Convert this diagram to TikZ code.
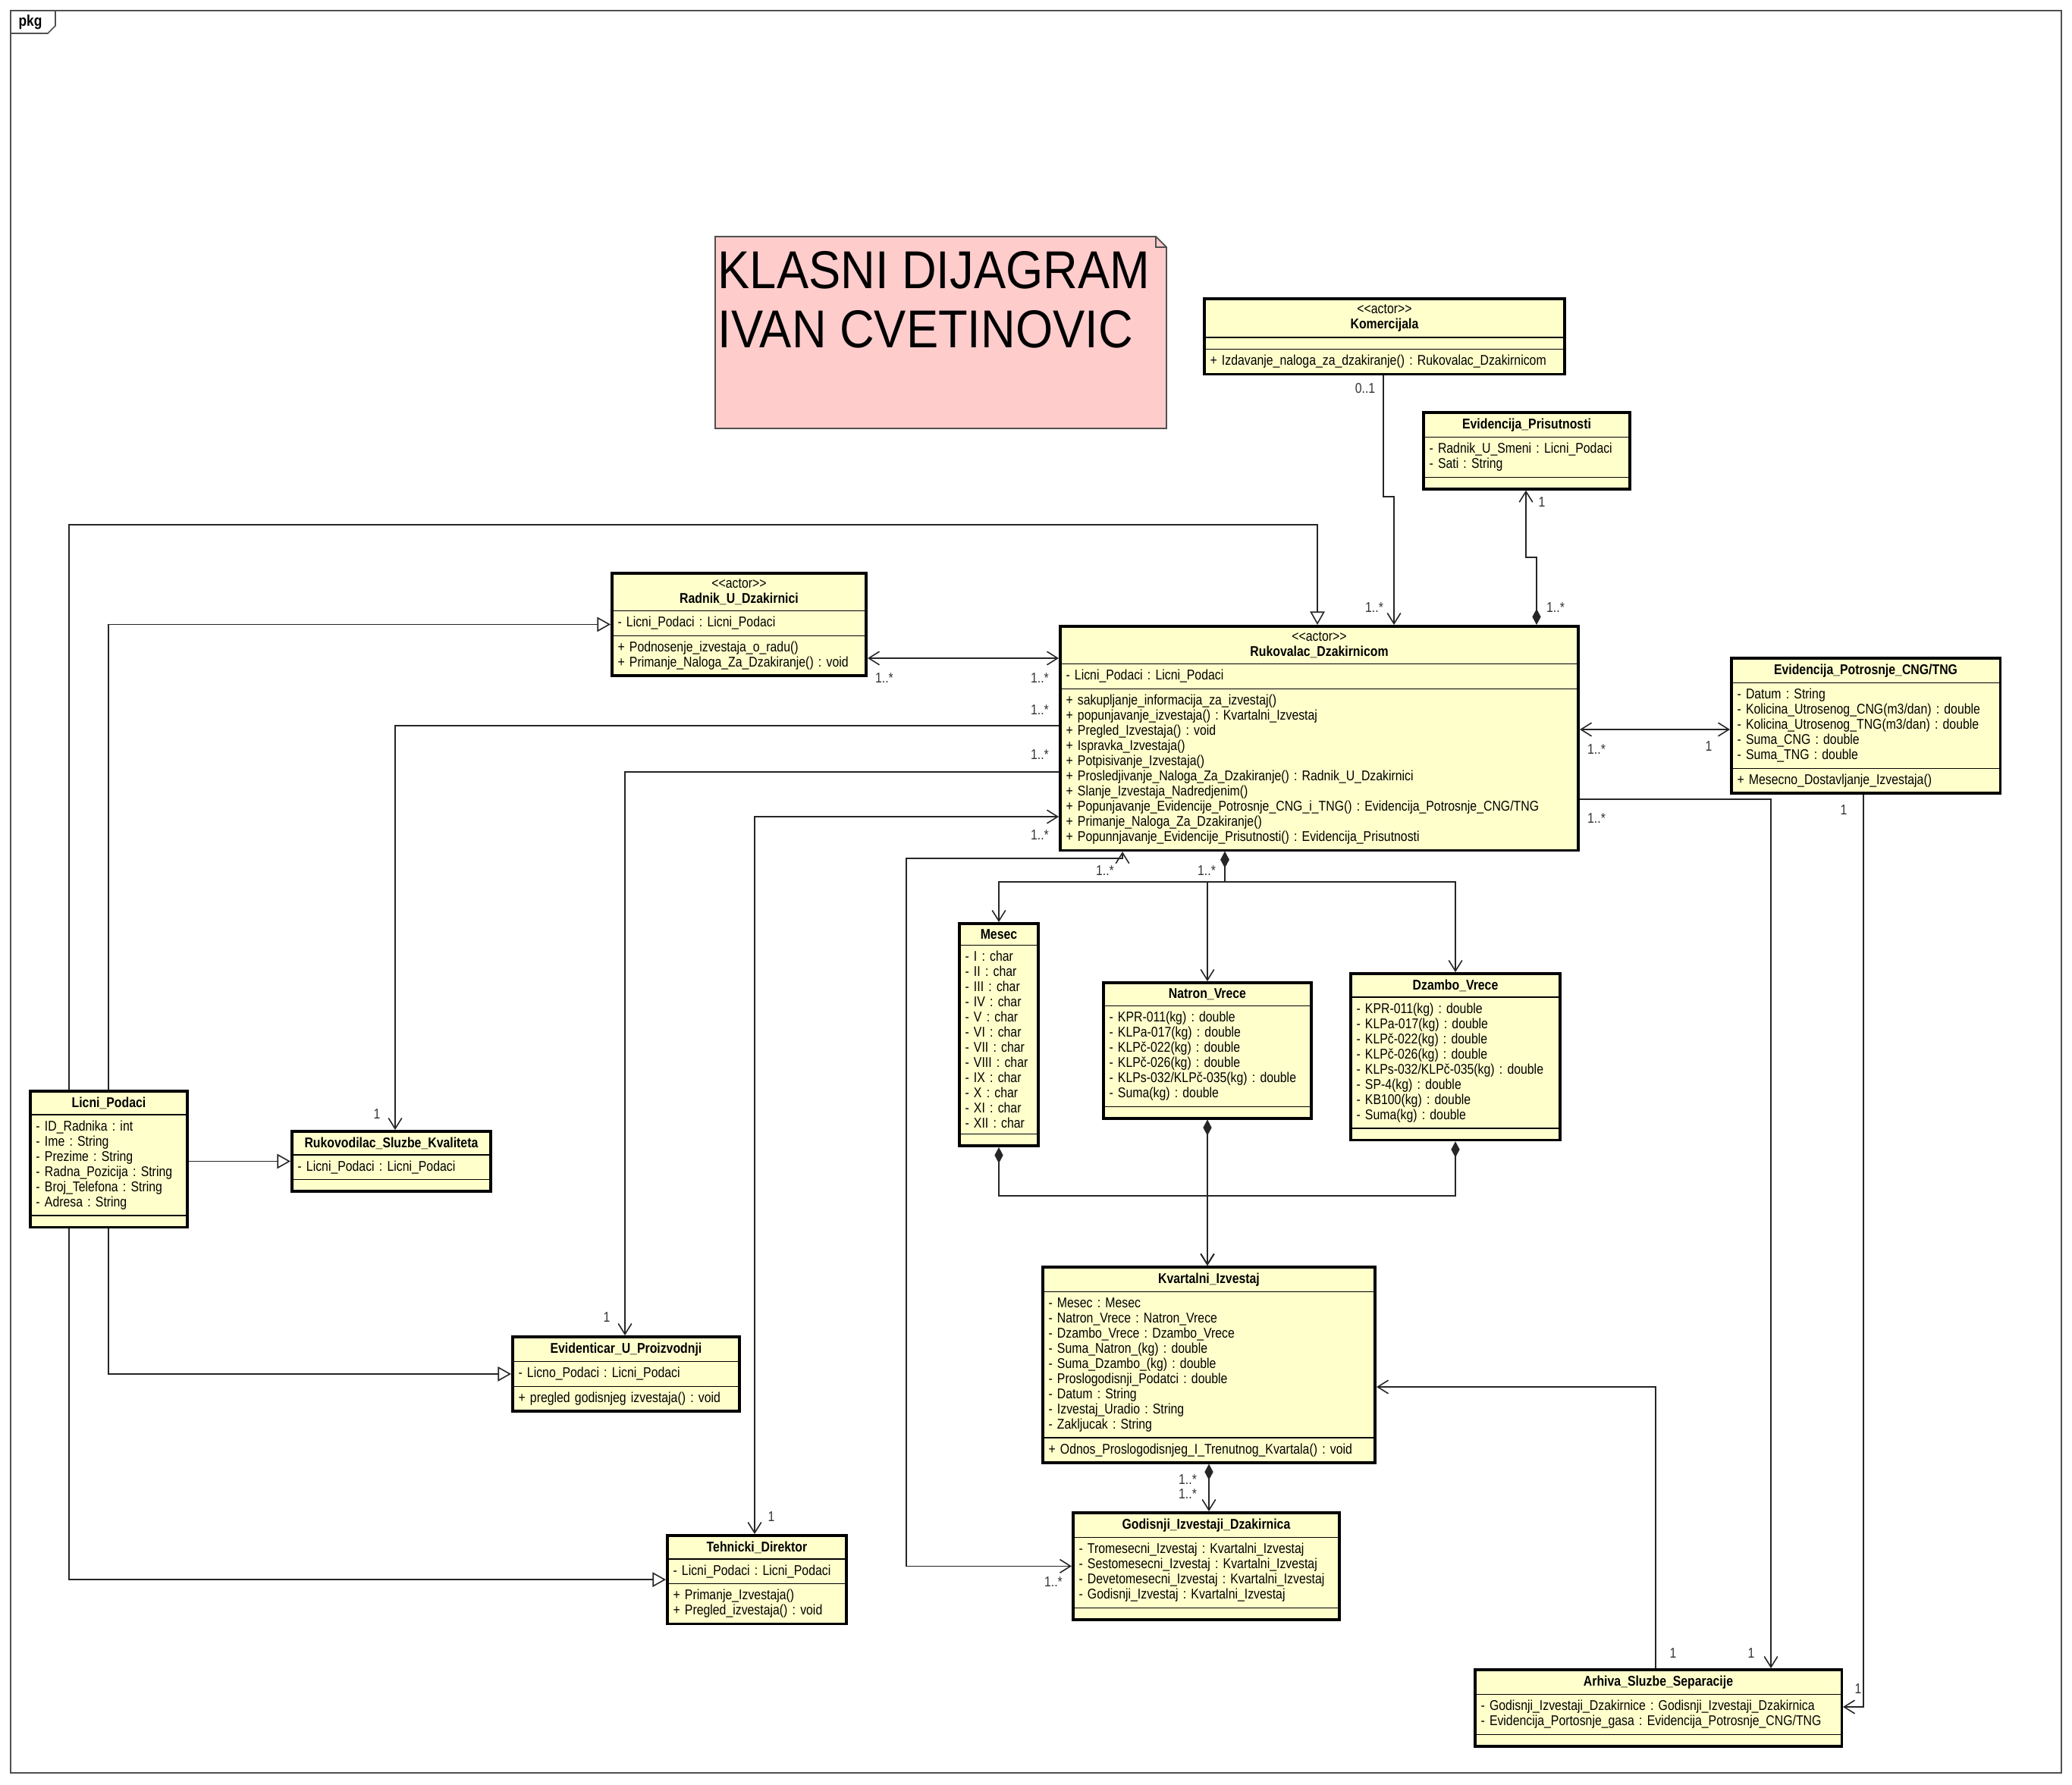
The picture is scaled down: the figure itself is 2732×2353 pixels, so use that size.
\documentclass[tikz,border=0pt]{standalone}
\usepackage{fontspec}
\usetikzlibrary{arrows.meta,shapes.multipart}
\newfontfamily\umlfont[FakeStretch=0.85]{Liberation Sans}
\newfontfamily\notefont[FakeStretch=0.9]{Liberation Sans}
\definecolor{umlYellow}{RGB}{255,255,204}
\definecolor{notePink}{RGB}{255,204,204}
\definecolor{frameGray}{RGB}{80,80,80}
\newcommand{\stereo}[1]{{<}{<}#1{>}{>}}
\newcommand{\umlhead}[1]{\centering#1\par}
\frenchspacing

\begin{document}
\begin{tikzpicture}[
  x=0.1mm, y=-0.1mm,
  umlclass/.style={rectangle split, rectangle split parts=3,
                   rectangle split draw splits=false,
                   rectangle split ignore empty parts=false,
                   rectangle split empty part height=0pt,
                   rectangle split empty part depth=0pt,
                   draw=black, line width=1pt, fill=umlYellow,
                   font=\umlfont\fontsize{5.3}{5.7}\selectfont,
                   align=left, inner xsep=2.2pt, inner ysep=1.7pt, anchor=north west},
  cls/.style={umlclass, text width=#1},
  splitline/.style={line width=0.4pt},
  conn/.style={line width=0.45pt, black!85},
  assoc/.style={conn, -{Straight Barb[length=4pt,width=5pt]}},
  both/.style={conn, {Straight Barb[length=4pt,width=5pt]}-{Straight Barb[length=4pt,width=5pt]}},
  gen/.style={conn, -{Triangle[open,fill=white,length=5pt,width=5.5pt]}},
  comp/.style={conn, {Diamond[length=6pt,width=3.2pt]}-{Straight Barb[length=4pt,width=5pt]}},
  mult/.style={font=\umlfont\fontsize{5.3}{5.7}\selectfont, inner sep=0pt, text=black!80},
]
\useasboundingbox (0,0) rectangle (2732,2353);
\fill[white] (0,0) rectangle (2732,2353);

%% package frame
\draw[frameGray, line width=0.5pt] (14,14) rectangle (2718,2338);
\draw[frameGray, line width=0.5pt] (14,44) -- (63,44) -- (73,34) -- (73,14);
\node[font=\umlfont\bfseries\fontsize{5.8}{6}\selectfont, inner sep=0pt] (pkg) at (40,29) {pkg};

%% note
\draw[frameGray, fill=notePink, line width=0.5pt]
  (943,312) -- (1524,312) -- (1538,326) -- (1538,565) -- (943,565) -- cycle;
\draw[frameGray, line width=0.5pt] (1524,312) -- (1524,326) -- (1538,326);
\node[anchor=north west, align=left, inner sep=0pt,
      font=\notefont\fontsize{20}{22.2}\selectfont] (note) at (946,331)
  {KLASNI DIJAGRAM\\IVAN CVETINOVIC};

%% classes
\node[cls=46mm] (kom) at (1586,392)
  {\umlhead{\stereo{actor}\\\textbf{Komercijala}}
   \nodepart{two}
   \nodepart{three}+ Izdavanje\_naloga\_za\_dzakiranje() : Rukovalac\_Dzakirnicom};

\node[cls=25.7mm] (evpr) at (1875,542)
  {\umlhead{\textbf{Evidencija\_Prisutnosti}}
   \nodepart{two}- Radnik\_U\_Smeni : Licni\_Podaci\\- Sati : String
   \nodepart{three}};

\node[cls=32mm] (rad) at (805,754)
  {\umlhead{\stereo{actor}\\\textbf{Radnik\_U\_Dzakirnici}}
   \nodepart{two}- Licni\_Podaci : Licni\_Podaci
   \nodepart{three}+ Podnosenje\_izvestaja\_o\_radu()\\
   + Primanje\_Naloga\_Za\_Dzakiranje() : void};

\node[cls=66.8mm] (rk) at (1396,824)
  {\umlhead{\stereo{actor}\\\textbf{Rukovalac\_Dzakirnicom}}
   \nodepart{two}- Licni\_Podaci : Licni\_Podaci
   \nodepart{three}+ sakupljanje\_informacija\_za\_izvestaj()\\
   + popunjavanje\_izvestaja() : Kvartalni\_Izvestaj\\
   + Pregled\_Izvestaja() : void\\
   + Ispravka\_Izvestaja()\\
   + Potpisivanje\_Izvestaja()\\
   + Prosledjivanje\_Naloga\_Za\_Dzakiranje() : Radnik\_U\_Dzakirnici\\
   + Slanje\_Izvestaja\_Nadredjenim()\\
   + Popunjavanje\_Evidencije\_Potrosnje\_CNG\_i\_TNG() : Evidencija\_Potrosnje\_CNG/TNG\\
   + Primanje\_Naloga\_Za\_Dzakiranje()\\
   + Popunnjavanje\_Evidencije\_Prisutnosti() : Evidencija\_Prisutnosti};

\node[cls=33.9mm] (evp) at (2281,866)
  {\umlhead{\textbf{Evidencija\_Potrosnje\_CNG/TNG}}
   \nodepart{two}- Datum : String\\
   - Kolicina\_Utrosenog\_CNG(m3/dan) : double\\
   - Kolicina\_Utrosenog\_TNG(m3/dan) : double\\
   - Suma\_CNG : double\\
   - Suma\_TNG : double
   \nodepart{three}+ Mesecno\_Dostavljanje\_Izvestaja()};

\node[cls=8.9mm] (mes) at (1263,1216)
  {\umlhead{\textbf{Mesec}}
   \nodepart{two}- I : char\\- II : char\\- III : char\\- IV : char\\- V : char\\
   - VI : char\\- VII : char\\- VIII : char\\- IX : char\\- X : char\\- XI : char\\
   - XII : char
   \nodepart{three}};

\node[cls=25.9mm] (nat) at (1453,1294)
  {\umlhead{\textbf{Natron\_Vrece}}
   \nodepart{two}- KPR-011(kg) : double\\
   - KLPa-017(kg) : double\\
   - KLPč-022(kg) : double\\
   - KLPč-026(kg) : double\\
   - KLPs-032/KLPč-035(kg) : double\\
   - Suma(kg) : double
   \nodepart{three}};

\node[cls=26.1mm] (dz) at (1779,1282)
  {\umlhead{\textbf{Dzambo\_Vrece}}
   \nodepart{two}- KPR-011(kg) : double\\
   - KLPa-017(kg) : double\\
   - KLPč-022(kg) : double\\
   - KLPč-026(kg) : double\\
   - KLPs-032/KLPč-035(kg) : double\\
   - SP-4(kg) : double\\
   - KB100(kg) : double\\
   - Suma(kg) : double
   \nodepart{three}};

\node[cls=19.2mm] (lp) at (38,1437)
  {\umlhead{\textbf{Licni\_Podaci}}
   \nodepart{two}- ID\_Radnika : int\\
   - Ime : String\\
   - Prezime : String\\
   - Radna\_Pozicija : String\\
   - Broj\_Telefona : String\\
   - Adresa : String
   \nodepart{three}};

\node[cls=24.7mm] (rsk) at (383,1490)
  {\umlhead{\textbf{Rukovodilac\_Sluzbe\_Kvaliteta}}
   \nodepart{two}- Licni\_Podaci : Licni\_Podaci
   \nodepart{three}};

\node[cls=42.3mm] (kv) at (1373,1669)
  {\umlhead{\textbf{Kvartalni\_Izvestaj}}
   \nodepart{two}- Mesec : Mesec\\
   - Natron\_Vrece : Natron\_Vrece\\
   - Dzambo\_Vrece : Dzambo\_Vrece\\
   - Suma\_Natron\_(kg) : double\\
   - Suma\_Dzambo\_(kg) : double\\
   - Proslogodisnji\_Podatci : double\\
   - Datum : String\\
   - Izvestaj\_Uradio : String\\
   - Zakljucak : String
   \nodepart{three}+ Odnos\_Proslogodisnjeg\_I\_Trenutnog\_Kvartala() : void};

\node[cls=28.4mm] (evid) at (674,1761)
  {\umlhead{\textbf{Evidenticar\_U\_Proizvodnji}}
   \nodepart{two}- Licno\_Podaci : Licni\_Podaci
   \nodepart{three}+ pregled godisnjeg izvestaja() : void};

\node[cls=22.1mm] (teh) at (878,2023)
  {\umlhead{\textbf{Tehnicki\_Direktor}}
   \nodepart{two}- Licni\_Podaci : Licni\_Podaci
   \nodepart{three}+ Primanje\_Izvestaja()\\
   + Pregled\_izvestaja() : void};

\node[cls=33.6mm] (god) at (1413,1993)
  {\umlhead{\textbf{Godisnji\_Izvestaji\_Dzakirnica}}
   \nodepart{two}- Tromesecni\_Izvestaj : Kvartalni\_Izvestaj\\
   - Sestomesecni\_Izvestaj : Kvartalni\_Izvestaj\\
   - Devetomesecni\_Izvestaj : Kvartalni\_Izvestaj\\
   - Godisnji\_Izvestaj : Kvartalni\_Izvestaj
   \nodepart{three}};

\node[cls=46.8mm] (arh) at (1943,2200)
  {\umlhead{\textbf{Arhiva\_Sluzbe\_Separacije}}
   \nodepart{two}- Godisnji\_Izvestaji\_Dzakirnice : Godisnji\_Izvestaji\_Dzakirnica\\
   - Evidencija\_Portosnje\_gasa : Evidencija\_Potrosnje\_CNG/TNG
   \nodepart{three}};

% thin compartment lines
\foreach \c in {kom,evpr,rad,rk,evp,mes,nat,dz,lp,rsk,kv,evid,teh,god,arh}{
  \draw[splitline] (\c.one split west) -- (\c.one split east);
  \draw[splitline] (\c.two split west) -- (\c.two split east);
}

%% bend points
\coordinate (kmA) at (1824,655);
\coordinate (kmB) at (1838,655);
\coordinate (epA) at (2026,735);
\coordinate (epB) at (2012,735);
\coordinate (lpA) at (91,692);
\coordinate (lpB) at (1737,692);
\coordinate (lpC) at (143,821);
\coordinate (radrk) at (1200,868);
\coordinate (c6) at (521,957);
\coordinate (c7) at (824,1018);
\coordinate (c8) at (995,1077);
\coordinate (c9) at (143,1808);
\coordinate (c10) at (91,2082);
\coordinate (c12a) at (1480,1132);
\coordinate (c12b) at (1195,1132);
\coordinate (bus) at (1615,1163);
\coordinate (kvbus) at (1592,1577);
\coordinate (c16) at (2200,962);
\coordinate (c17) at (2335,1054);
\coordinate (c18) at (2457,2251);
\coordinate (c19) at (2183,1829);

%% connectors
\draw[assoc] (kom.south -| kmA) -- (kmA) -- (kmB) -- (rk.north -| kmB);
\draw[comp] (rk.north -| epA) -- (epA) -- (epB) -- (evpr.south -| epB);
\draw[gen] (lp.north -| lpA) -- (lpA) -- (lpB) -- (rk.north -| lpB);
\draw[gen] (lp.north -| lpC) |- (rad.west);
\draw[both] (rad.east |- radrk) -- (rk.west |- radrk);
\draw[assoc] (rk.west |- c6) -- (c6) -- (rsk.north -| c6);
\draw[assoc] (rk.west |- c7) -- (c7) -- (evid.north -| c7);
\draw[both] (rk.west |- c8) -- (c8) -- (teh.north -| c8);
\draw[gen] (lp.south -| c9) |- (evid.west);
\draw[gen] (lp.south -| c10) |- (teh.west);
\draw[gen] (lp.east |- rsk.west) -- (rsk.west);
\draw[both] (rk.south -| c12a) -- (c12a) -- (c12b) |- (god.west);
\foreach \t in {mes,nat,dz}
  \draw[comp] (rk.south -| bus) -- (bus) -| (\t.north);
\foreach \t in {mes,dz}
  \draw[comp] (\t.south) |- (kvbus) -- (kv.north -| kvbus);
\draw[comp] (nat.south) -- (kv.north -| nat.south);
\draw[comp] (kv.south) -- (kv.south |- god.north);
\draw[both] (rk.east |- c16) -- (evp.west |- c16);
\draw[assoc] (rk.east |- c17) -- (c17) -- (arh.north -| c17);
\draw[assoc] (evp.south -| c18) -- (c18) -- (arh.east |- c18);
\draw[assoc] (arh.north -| c19) -- (c19) -- (kv.east |- c19);

%% multiplicities
\foreach \x/\y/\m [count=\i] in {
    1800/512/0..1, 1812/801/1..*, 2033/662/1, 2051/801/1..*,
    1166/894/1..*, 1371/894/1..*, 1371/936/1..*, 497/1469/1,
    1371/995/1..*, 800/1737/1, 1371/1101/1..*, 1017/2000/1,
    1457/1148/1..*, 1591/1148/1..*, 1389/2086/1..*, 1566/1951/1..*,
    1566/1970/1..*, 2105/988/1..*, 2253/984/1, 2105/1079/1..*,
    2431/1068/1, 2309/2180/1, 2206/2180/1, 2450/2227/1}
  \node[mult] (mult\i) at (\x,\y) {\m};

\end{tikzpicture}
\end{document}
